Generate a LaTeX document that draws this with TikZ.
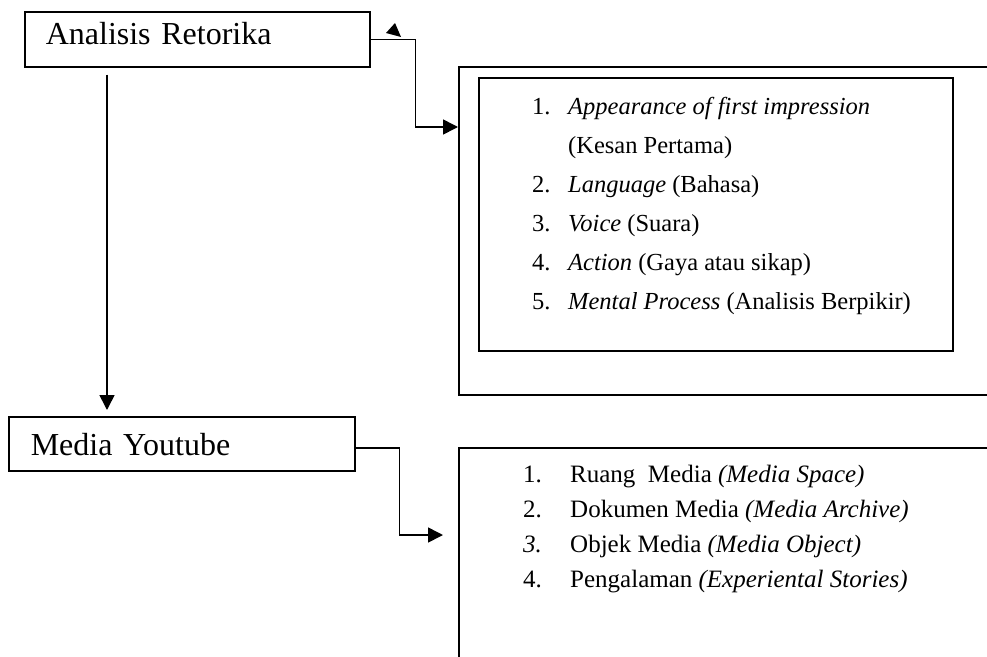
\documentclass[tikz,border=0pt]{standalone}
\usepackage{fontspec}
\setmainfont{Liberation Serif}
\usetikzlibrary{arrows.meta,calc}

\tikzset{
  box/.style={draw, line width=1.6pt, rectangle, inner sep=0pt, anchor=north west},
  arr/.style={line width=1.6pt, -{Triangle[length=15pt,width=15pt]}},
  titlefont/.style={font=\fontsize{32}{38}\selectfont, align=left},
  listfont/.style={align=left, inner sep=0pt, anchor=north west},
}

\begin{document}
\begin{tikzpicture}[x=1pt,y=-1pt]
\useasboundingbox (0,0) rectangle (987,656);
\clip (0,0) rectangle (987,656);

%boxes left
\node[box, titlefont, minimum width=345pt, minimum height=55pt, text width=303pt, inner xsep=21pt, text height=21pt, text depth=11pt] (ar) at (24,11) {Analisis Retorika};
\node[box, titlefont, minimum width=346pt, minimum height=54pt, text width=302pt, inner xsep=22pt, text height=30pt, text depth=6pt] (yt) at (8,416) {Media Youtube};

%aspek retorika
\node[box, minimum width=560pt, minimum height=328pt] (aspekouter) at (458,66) {};
\node[box, minimum width=474pt, minimum height=273pt] (aspekinner) at (478,77) {};
\node[listfont, font=\fontsize{24.5}{39}\selectfont] (aspek) at ($(aspekinner.north west)+(54,20)$)
{\makebox[36pt][l]{1.}\textit{Appearance of first impression}\\
 \hspace*{36pt}(Kesan Pertama)\\
 \makebox[36pt][l]{2.}\textit{Language} (Bahasa)\\
 \makebox[36pt][l]{3.}\textit{Voice} (Suara)\\
 \makebox[36pt][l]{4.}\textit{Action} (Gaya atau sikap)\\
 \makebox[36pt][l]{5.}\textit{Mental Process} (Analisis Berpikir)};

%media
\node[box, minimum width=560pt, minimum height=260pt] (mediaouter) at (458,447) {};
\node[listfont, font=\fontsize{25}{35}\selectfont] (media) at ($(mediaouter.north west)+(65,18)$)
{\makebox[47pt][l]{1.}Ruang~ Media \textit{(Media Space)}\\
 \makebox[47pt][l]{2.}Dokumen Media \textit{(Media Archive)}\\
 \makebox[47pt][l]{\textit{3.}}Objek Media \textit{(Media Object)}\\
 \makebox[47pt][l]{4.}Pengalaman \textit{(Experiental Stories)}};

%connectors
\draw[arr] ($(ar.south west)+(83,7)$) -- ($(yt.north west)+(99,-6)$);
\draw[arr] (ar.east) -- ++(45,0) |- ($(aspekouter.north west)+(0,61)$);
\draw[arr] ($(yt.east)+(0,4)$) -- ++(44,0) |- ($(mediaouter.north west)+(-15,88)$);
\fill (395,23) -- (386,33) -- (401,37) -- cycle;
\end{tikzpicture}
\end{document}
